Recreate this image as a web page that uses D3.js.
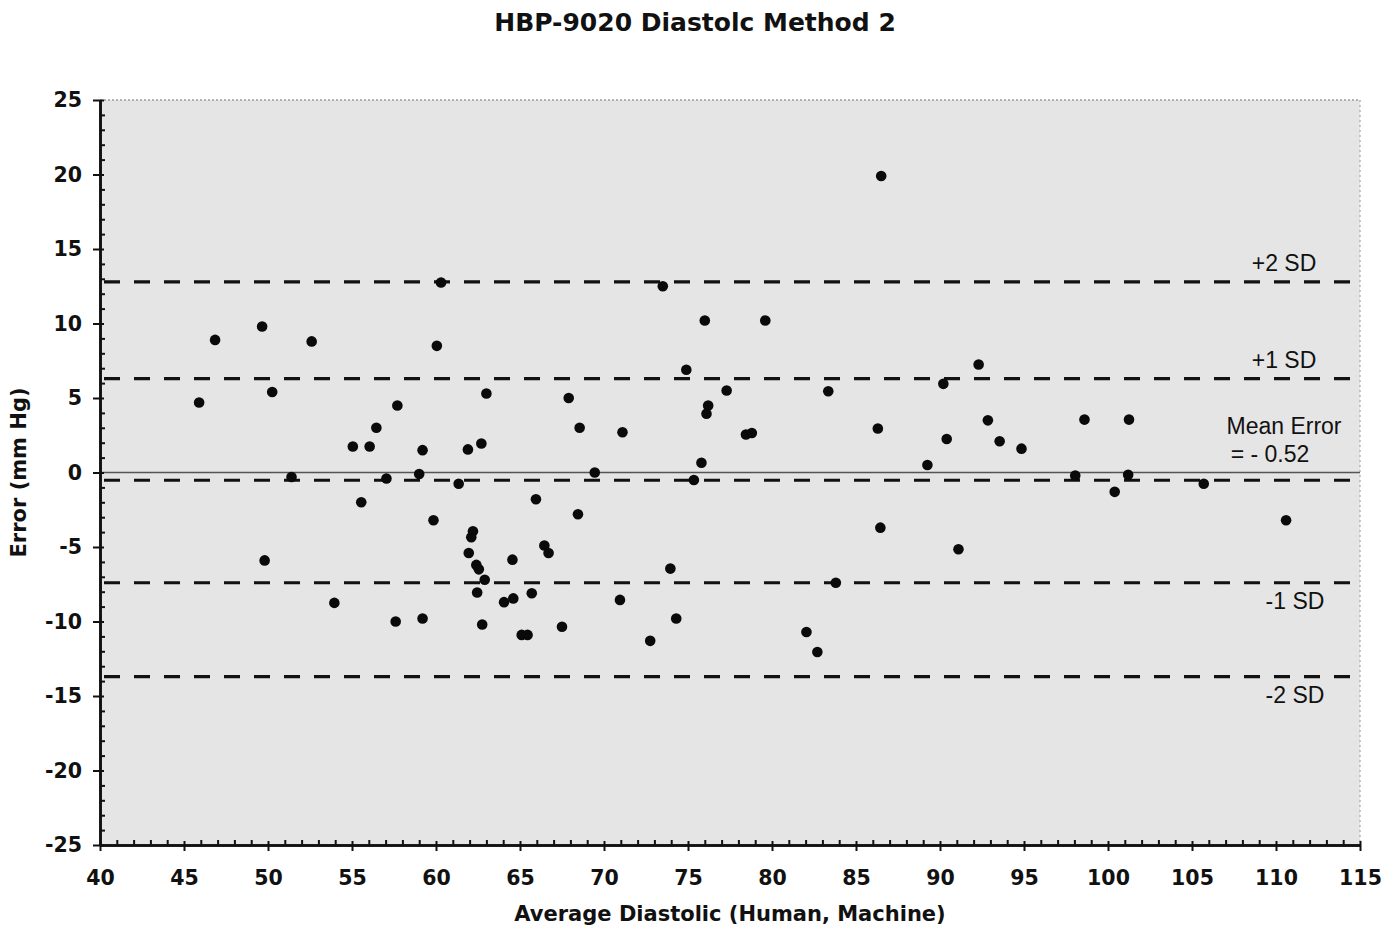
<!DOCTYPE html>
<html><head><meta charset="utf-8">
<script src="https://cdn.jsdelivr.net/npm/d3@7"></script>
<style>
html,body{margin:0;padding:0;background:#fff;}
svg{display:block;}
</style></head>
<body>
<svg id="chart" width="1398" height="928"></svg>
<script>
// ---- data ----
const avgDiastolic = [45.9,46.85,49.65,49.8,50.25,51.4,52.6,53.95,55.05,55.55,56.05,56.45,57.05,57.6,57.7,59.0,59.2,59.2,59.85,60.05,60.3,61.35,61.9,61.95,62.1,62.2,62.45,62.4,62.55,62.7,62.75,62.9,63.0,64.05,64.55,64.6,65.1,65.45,65.7,65.95,66.45,66.7,67.5,67.9,68.45,68.55,69.45,70.95,71.1,72.75,73.5,73.95,74.3,74.9,75.35,75.8,76.0,76.1,76.2,77.3,78.45,78.8,79.6,82.05,82.7,83.35,83.8,86.5,86.3,86.45,89.25,90.2,90.4,91.1,92.3,92.85,93.55,94.85,98.05,98.6,100.4,101.2,101.25,105.7,110.6];
const errorValues = [4.7,8.9,9.8,-5.9,5.4,-0.3,8.8,-8.75,1.75,-2.0,1.75,3.0,-0.4,-10.0,4.5,-0.1,-9.8,1.5,-3.2,8.5,12.75,-0.75,1.55,-5.4,-4.35,-3.95,-8.05,-6.2,-6.5,1.95,-10.2,-7.2,5.3,-8.7,-5.85,-8.45,-10.9,-10.9,-8.1,-1.8,-4.9,-5.4,-10.35,5.0,-2.8,3.0,0.0,-8.55,2.7,-11.3,12.5,-6.45,-9.8,6.9,-0.5,0.65,10.2,3.95,4.5,5.5,2.55,2.65,10.2,-10.7,-12.05,5.45,-7.4,19.9,2.95,-3.7,0.5,5.95,2.25,-5.15,7.25,3.5,2.1,1.6,-0.2,3.55,-1.3,-0.15,3.55,-0.75,-3.2];
const refLineValues = [12.8, 6.3, -0.52, -7.4, -13.7];
const refLineLabels = ["+2 SD", "+1 SD", "", "-1 SD", "-2 SD"];
const meanLabel = ["Mean Error", "= - 0.52"];
const xTicks = [40,45,50,55,60,65,70,75,80,85,90,95,100,105,110,115];
const yTicks = [25,20,15,10,5,0,-5,-10,-15,-20,-25];
const title = "HBP-9020 Diastolc Method 2";
const xTitle = "Average Diastolic (Human, Machine)";
const yTitle = "Error (mm Hg)";

// ---- layout ----
const svg = d3.select("#chart");
const L = 100, R = 1360, T = 100, B = 845;
const x = d3.scaleLinear().domain([40,115]).range([L,R]);
const y = d3.scaleLinear().domain([-25,25]).range([B,T]);
const boldFont = "'DejaVu Sans', Verdana, sans-serif";
const labFont = "'Liberation Sans', Arial, sans-serif";
const fmt = d => String(d); // plain hyphen-minus as in the original

// plot background
svg.append("rect").attr("x",L).attr("y",T).attr("width",R-L).attr("height",B-T)
  .attr("fill","#e5e5e5");
// top / right dotted border
svg.append("line").attr("x1",L).attr("x2",R).attr("y1",T).attr("y2",T)
  .attr("stroke","#9a9a9a").attr("stroke-width",1.5).attr("stroke-dasharray","2,2");
svg.append("line").attr("x1",R).attr("x2",R).attr("y1",T).attr("y2",B)
  .attr("stroke","#b5b5b5").attr("stroke-width",1.5).attr("stroke-dasharray","2,3");

// zero line
svg.append("line").attr("x1",L).attr("x2",R).attr("y1",y(0)).attr("y2",y(0))
  .attr("stroke","#555").attr("stroke-width",1.3);

// reference dashed lines
svg.append("g").selectAll("line").data(refLineValues).join("line")
  .attr("x1",L+4).attr("x2",R).attr("y1",d=>y(d)).attr("y2",d=>y(d))
  .attr("stroke","#111").attr("stroke-width",3.2).attr("stroke-dasharray","16,14");

// reference labels
const labG = svg.append("g").attr("font-family",labFont).attr("font-size",23).attr("fill","#111");
refLineLabels.forEach((t,i)=>{
  if(!t) return;
  const v = refLineValues[i];
  const above = v > 0;
  labG.append("text").attr("x", above ? 1284 : 1295).attr("y", above ? y(v)-11 : y(v)+26)
    .attr("text-anchor","middle").text(t);
});
labG.append("text").attr("x",1284).attr("y",434).attr("text-anchor","middle").text(meanLabel[0]);
labG.append("text").attr("x",1270).attr("y",462).attr("text-anchor","middle").text(meanLabel[1]);

// points
svg.append("g").selectAll("circle").data(avgDiastolic).join("circle")
  .attr("cx",d=>x(d)).attr("cy",(d,i)=>y(errorValues[i])).attr("r",5.3)
  .attr("fill","#0a0a0a");

// axes
const minorX = d3.range(40,116,1).filter(v=>v%5!==0);
const minorY = d3.range(-25,26,1).filter(v=>v%5!==0);

const xAxis = svg.append("g").attr("transform",`translate(0,${B})`)
  .call(d3.axisBottom(x).tickValues(xTicks).tickSize(6).tickSizeOuter(0).tickPadding(19).tickFormat(fmt));
const xMinor = svg.append("g").attr("transform",`translate(0,${B})`)
  .call(d3.axisBottom(x).tickValues(minorX).tickSize(-5).tickSizeOuter(0).tickFormat(""));
const yAxis = svg.append("g").attr("transform",`translate(${L},0)`)
  .call(d3.axisLeft(y).tickValues(yTicks).tickSize(7).tickSizeOuter(0).tickPadding(11).tickFormat(fmt));
const yMinor = svg.append("g").attr("transform",`translate(${L},0)`)
  .call(d3.axisLeft(y).tickValues(minorY).tickSize(-5).tickSizeOuter(0).tickFormat(""));

[xAxis,xMinor,yAxis,yMinor].forEach(g=>{
  g.selectAll(".domain").attr("stroke","#111").attr("stroke-width",2.6);
  g.selectAll(".tick line").attr("stroke","#111").attr("stroke-width",2);
});
[xAxis,yAxis].forEach(g=>{
  g.selectAll(".tick text").attr("font-family",boldFont).attr("font-weight","bold")
    .attr("font-size",20.5).attr("fill","#111");
});
yAxis.selectAll(".tick line").attr("x1",4);
xAxis.selectAll(".tick line").attr("y1",-4);

// titles
svg.append("text").attr("x",695).attr("y",31).attr("text-anchor","middle")
  .attr("font-family",boldFont).attr("font-weight","bold").attr("font-size",25)
  .attr("fill","#111").text(title);
svg.append("text").attr("x",730).attr("y",921).attr("text-anchor","middle")
  .attr("font-family",boldFont).attr("font-weight","bold").attr("font-size",21)
  .attr("fill","#111").text(xTitle);
svg.append("text").attr("transform",`translate(26,${y(0)}) rotate(-90)`).attr("text-anchor","middle")
  .attr("font-family",boldFont).attr("font-weight","bold").attr("font-size",21)
  .attr("fill","#111").text(yTitle);
</script>
</body></html>
